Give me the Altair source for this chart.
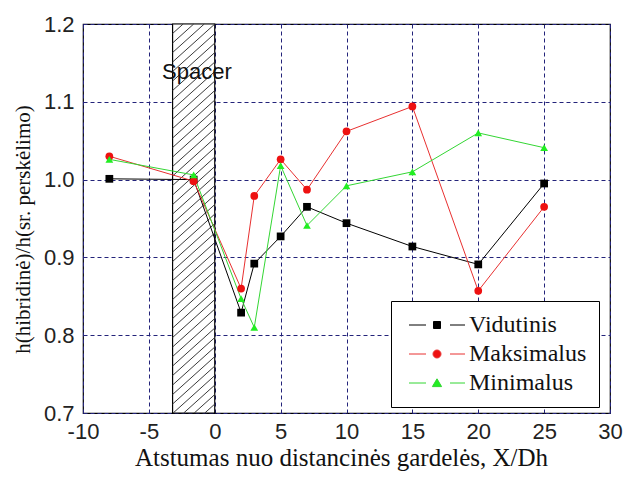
import altair as alt
import pandas as pd

# ---- data ----
x_pos = [-8, -1.6, 2, 3, 5, 7, 10, 15, 20, 25]
vidutinis = [1.001, 1.000, 0.829, 0.892, 0.927, 0.965, 0.944, 0.914, 0.891, 0.995]
maksimalus = [1.030, 0.998, 0.860, 0.979, 1.026, 0.987, 1.062, 1.094, 0.857, 0.965]
minimalus = [1.026, 1.006, 0.847, 0.810, 1.018, 0.941, 0.992, 1.010, 1.060, 1.041]

series_names = ["Vidutinis", "Maksimalus", "Minimalus"]
line_colors = ["#000000", "#e83030", "#33d633"]
marker_colors = ["#000000", "#ee1111", "#22ee22"]
point_shapes = ["square", "circle", "triangle-up"]

spacer_start = -3.2
spacer_end = 0.0
spacer_label = ["Spacer"]
spacer_label_x = [-1.35]
spacer_label_y = [1.138]

x_ticks = [-10, -5, 0, 5, 10, 15, 20, 25, 30]
y_ticks = [0.7, 0.8, 0.9, 1.0, 1.1, 1.2]
x_domain = [-10, 30]
y_domain = [0.7, 1.2]

x_title = "Atstumas nuo distancinės gardelės, X/Dh"
y_title = "h(hibridinė)/h(sr. perskėlimo)"

# ---- layout ----
W, H = 527, 389
PAD = {"left": 83, "top": 24, "right": 14, "bottom": 68}

rows = []
for name, vals in zip(series_names, [vidutinis, maksimalus, minimalus]):
    for xv, yv in zip(x_pos, vals):
        rows.append({"x": xv, "y": yv, "series": name})
df = pd.DataFrame(rows)

spacer_df = pd.DataFrame({"x": [spacer_start], "x2": [spacer_end],
                          "y": [y_domain[0]], "y2": [y_domain[1]]})
label_df = pd.DataFrame({"x": spacer_label_x, "y": spacer_label_y, "t": spacer_label})

# hatch lines ("/") clipped to the spacer box, derived from the spacer bounds
px_per_x = W / (x_domain[1] - x_domain[0])
px_per_y = H / (y_domain[1] - y_domain[0])
w_px = (spacer_end - spacer_start) * px_per_x
h_px = H
slope = 0.9
v_spacing = 9.5
d = v_spacing / slope
hatch_rows = []
s = -h_px / slope
while s < w_px:
    lo = max(0.0, s)
    hi = min(w_px, s + h_px / slope)
    if hi > lo:
        y_lo = slope * (lo - s)
        y_hi = slope * (hi - s)
        hatch_rows.append({
            "x": spacer_start + lo / px_per_x, "x2": spacer_start + hi / px_per_x,
            "y": y_domain[0] + y_lo / px_per_y, "y2": y_domain[0] + y_hi / px_per_y})
    s += d
hatch_df = pd.DataFrame(hatch_rows)

xs = alt.Scale(domain=x_domain, nice=False, zero=False)
ys = alt.Scale(domain=y_domain, nice=False, zero=False)

grid_color = "#23237a"
fix_minus = "replace(datum.label, '\u2212', '-')"
x_axis = alt.Axis(values=x_ticks, title=x_title, grid=True, gridDash=[4, 3],
                  gridColor=grid_color, gridWidth=1, ticks=False, domain=False,
                  labelFont="Liberation Sans", labelFontSize=22, labelColor="#222222",
                  labelPadding=8, labelExpr=fix_minus, labelFlush=False,
                  titleFont="Liberation Serif", titleFontSize=25,
                  titleFontWeight="normal", titleColor="#111111",
                  titleX=258, titleY=52, titleBaseline="alphabetic", titleAlign="center")
y_axis = alt.Axis(values=y_ticks, title=y_title, format=".1f", grid=True, gridDash=[4, 3],
                  gridColor=grid_color, gridWidth=1, ticks=False, domain=False,
                  labelFont="Liberation Sans", labelFontSize=22, labelColor="#222222",
                  labelPadding=9, labelFlush=False, titleFont="Liberation Serif", titleFontSize=21,
                  titleFontWeight="normal", titleColor="#111111",
                  titleX=-60, titleY=205, titleBaseline="middle", titleAlign="center",
                  titleAngle=270)

spacer = alt.Chart(spacer_df).mark_rect(fill="#ffffff", stroke="#000000", strokeWidth=1.2).encode(
    x=alt.X("x:Q", scale=xs, axis=x_axis), x2="x2:Q",
    y=alt.Y("y:Q", scale=ys, axis=y_axis), y2="y2:Q")

hatch = alt.Chart(hatch_df).mark_rule(color="#3a3a3a", strokeWidth=1).encode(
    x=alt.X("x:Q", scale=xs), x2="x2:Q",
    y=alt.Y("y:Q", scale=ys), y2="y2:Q")

lines = alt.Chart(df).mark_line(strokeWidth=1).encode(
    x=alt.X("x:Q", scale=xs), y=alt.Y("y:Q", scale=ys),
    stroke=alt.Stroke("series:N", scale=alt.Scale(domain=series_names, range=line_colors), legend=None),
    detail="series:N")

points = alt.Chart(df).mark_point(filled=True, size=60, opacity=1).encode(
    x=alt.X("x:Q", scale=xs), y=alt.Y("y:Q", scale=ys),
    fill=alt.Fill("series:N", scale=alt.Scale(domain=series_names, range=marker_colors), legend=None),
    shape=alt.Shape("series:N", scale=alt.Scale(domain=series_names, range=point_shapes), legend=None))

label = alt.Chart(label_df).mark_text(font="Liberation Sans", fontSize=22, color="#111111",
                                      align="center", baseline="middle").encode(
    x=alt.X("x:Q", scale=xs), y=alt.Y("y:Q", scale=ys), text="t:N")

leg_line = "M-2.8,0H-1.1M1.3,0H2.8"
legend_paths = [
    leg_line + "M-0.35,-0.35H0.35V0.35H-0.35Z",
    leg_line + "M-0.4,0A0.4,0.4,0,1,0,0.4,0A0.4,0.4,0,1,0,-0.4,0Z",
    leg_line + "M0,-0.42L0.46,0.36L-0.46,0.36Z",
]
legend = alt.Legend(orient="none", legendX=308, legendY=277, title=None,
                    labelFont="Liberation Serif", labelFontSize=24, labelColor="#111111",
                    strokeColor="#000000", fillColor="#ffffff", padding=12,
                    symbolSize=400, symbolStrokeWidth=1, symbolOffset=22,
                    labelOffset=20, rowPadding=5, labelLimit=300)

legend_layer = alt.Chart(df).transform_filter("datum.x > 1000").mark_point(filled=True, opacity=1).encode(
    x=alt.X("x:Q", scale=xs), y=alt.Y("y:Q", scale=ys),
    shape=alt.Shape("series:N", scale=alt.Scale(domain=series_names, range=legend_paths), legend=legend),
    fill=alt.Fill("series:N", scale=alt.Scale(domain=series_names, range=marker_colors), legend=legend),
    stroke=alt.Stroke("series:N", scale=alt.Scale(domain=series_names, range=line_colors), legend=legend))

chart = alt.layer(spacer, hatch, lines, points, label, legend_layer).resolve_scale(
    fill="independent", stroke="independent", shape="independent"
).properties(
    width=W, height=H, autosize=alt.AutoSizeParams(type="none"), padding=PAD,
    background="#ffffff"
).configure_view(stroke="#000000", strokeWidth=1.2)

chart.save("out.html", embed_options={"renderer": "svg", "actions": False})
